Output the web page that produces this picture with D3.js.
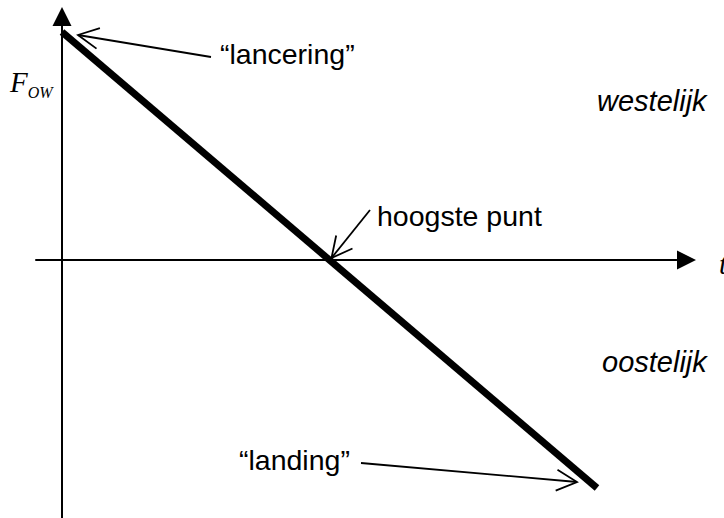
<!DOCTYPE html>
<html>
<head>
<meta charset="utf-8">
<script src="https://cdn.jsdelivr.net/npm/d3@7"></script>
<style>
  html, body { margin: 0; padding: 0; background: #fff; }
  svg { display: block; }
</style>
</head>
<body>
<div id="chart"></div>
<script>
// Data: F_OW against t, from launch to landing
const times = [0, 1, 2];
const forces = [1, 0, -1];

// Annotations (text + the point they point at)
const noteLabels = ["\u201clancering\u201d", "hoogste punt", "\u201clanding\u201d"];
const noteTimes = [0, 1, 2];
const noteForces = [1, 0, -1];

// Region labels
const regionLabels = ["westelijk", "oostelijk"];

const width = 724;
const height = 518;

const svg = d3.select("#chart")
    .append("svg")
    .attr("width", width)
    .attr("height", height);

// Scales
const x = d3.scaleLinear().domain([0, 2]).range([62, 597]);
const y = d3.scaleLinear().domain([-1, 1]).range([488, 32]);

const black = "#000";

// Axes (plain lines with filled arrowheads)
const xAxisStart = x(-0.1), xAxisEnd = x(2.37);
const yAxisBottom = y(-1.15), yAxisTop = y(1.11);
const head = 19;

svg.append("line")
    .attr("x1", xAxisStart).attr("y1", y(0))
    .attr("x2", xAxisEnd - head).attr("y2", y(0))
    .attr("stroke", black).attr("stroke-width", 2);

svg.append("path")
    .attr("d", `M${xAxisEnd},${y(0)} L${xAxisEnd - head},${y(0) - head / 2} L${xAxisEnd - head},${y(0) + head / 2} Z`)
    .attr("fill", black);

svg.append("line")
    .attr("x1", x(0)).attr("y1", yAxisBottom)
    .attr("x2", x(0)).attr("y2", yAxisTop + head)
    .attr("stroke", black).attr("stroke-width", 2);

svg.append("path")
    .attr("d", `M${x(0)},${yAxisTop} L${x(0) - head / 2},${yAxisTop + head} L${x(0) + head / 2},${yAxisTop + head} Z`)
    .attr("fill", black);

// Axis titles
const fLabel = svg.append("text")
    .attr("x", 10)
    .attr("y", 92)
    .style("font-family", "'Liberation Serif', 'Times New Roman', serif")
    .style("font-style", "italic")
    .style("font-size", "29px");
fLabel.append("tspan").text("F");
fLabel.append("tspan")
    .attr("dy", 6)
    .style("font-size", "16px")
    .text("OW");

svg.append("text")
    .attr("x", 719)
    .attr("y", 274)
    .style("font-family", "'Liberation Serif', 'Times New Roman', serif")
    .style("font-style", "italic")
    .style("font-size", "29px")
    .text("t");

// The thick line
const line = d3.line()
    .x(d => x(d[0]))
    .y(d => y(d[1]));

svg.append("path")
    .datum(times.map((t, i) => [t, forces[i]]))
    .attr("d", line)
    .attr("fill", "none")
    .attr("stroke", black)
    .attr("stroke-width", 7);

// Annotation layout: text anchor, arrow start, tip offset from the data point
const noteLayout = [
    { tx: 220, ty: 64, sx: 211, sy: 57, dx: 16, dy: 3 },
    { tx: 377, ty: 226, sx: 370, sy: 210, dx: 2, dy: -2 },
    { tx: 239, ty: 470, sx: 361, sy: 463, dx: -20, dy: -6 }
];

const textStyle = sel => sel
    .style("font-family", "'Liberation Sans', Arial, sans-serif")
    .style("font-size", "28.5px")
    .attr("fill", black);

noteLabels.forEach((label, i) => {
    const L = noteLayout[i];
    const tipX = x(noteTimes[i]) + L.dx;
    const tipY = y(noteForces[i]) + L.dy;

    svg.append("text")
        .attr("x", L.tx)
        .attr("y", L.ty)
        .call(textStyle)
        .text(label);

    svg.append("line")
        .attr("x1", L.sx).attr("y1", L.sy)
        .attr("x2", tipX).attr("y2", tipY)
        .attr("stroke", black).attr("stroke-width", 1.8);

    // open arrowhead
    const ang = Math.atan2(L.sy - tipY, L.sx - tipX);
    const wing = 23, spread = 27 * Math.PI / 180;
    const p1 = [tipX + wing * Math.cos(ang - spread), tipY + wing * Math.sin(ang - spread)];
    const p2 = [tipX + wing * Math.cos(ang + spread), tipY + wing * Math.sin(ang + spread)];
    svg.append("path")
        .attr("d", `M${p1[0]},${p1[1]} L${tipX},${tipY} L${p2[0]},${p2[1]}`)
        .attr("fill", "none")
        .attr("stroke", black)
        .attr("stroke-width", 1.8);
});

// Region labels
const regionPos = [{ x: 597, y: 111 }, { x: 602, y: 372 }];
regionLabels.forEach((label, i) => {
    svg.append("text")
        .attr("x", regionPos[i].x)
        .attr("y", regionPos[i].y)
        .call(textStyle)
        .style("font-style", "italic")
        .style("font-size", "29px")
        .text(label);
});
</script>
</body>
</html>
